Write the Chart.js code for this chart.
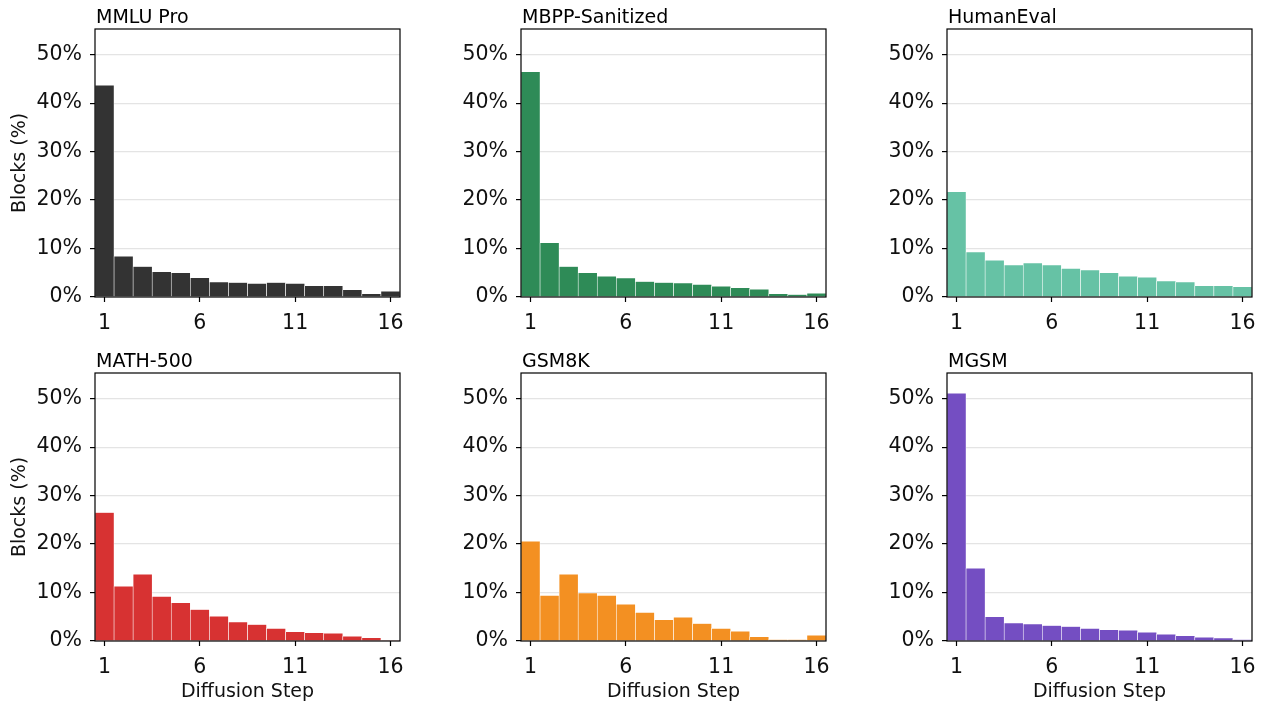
<!DOCTYPE html>
<html>
<head>
<meta charset="utf-8">
<script src="https://cdn.jsdelivr.net/npm/chart.js@4.4.1/dist/chart.umd.min.js"></script>
<style>
  html, body { margin: 0; padding: 0; background: #ffffff; }
  #wrap { position: relative; width: 1268px; height: 708px; overflow: hidden; }
  #wrap canvas { position: absolute; }
</style>
</head>
<body>
<div id="wrap"></div>
<script>
// Share of blocks (%) finalised at each diffusion step, per benchmark
const steps = ['1','2','3','4','5','6','7','8','9','10','11','12','13','14','15','16'];
const shownSteps = ['1','6','11','16'];
const yTicks = [0, 10, 20, 30, 40, 50];

const mmluPro   = [43.7, 8.4, 6.3, 5.2, 5.0, 4.0, 3.1, 3.0, 2.8, 3.0, 2.8, 2.3, 2.3, 1.5, 0.7, 1.2];
const mbppSan   = [46.5, 11.2, 6.3, 5.0, 4.3, 3.9, 3.2, 3.0, 2.9, 2.6, 2.2, 1.9, 1.6, 0.7, 0.5, 0.8];
const humanEval = [21.7, 9.3, 7.6, 6.6, 7.0, 6.6, 5.9, 5.6, 5.0, 4.3, 4.1, 3.3, 3.1, 2.3, 2.3, 2.1];
const math500   = [26.5, 11.3, 13.8, 9.2, 7.9, 6.5, 5.1, 3.9, 3.4, 2.6, 1.9, 1.7, 1.6, 1.0, 0.7, 0.1];
const gsm8k     = [20.6, 9.4, 13.8, 9.9, 9.4, 7.6, 5.9, 4.4, 4.9, 3.6, 2.6, 2.0, 0.9, 0.3, 0.3, 1.2];
const mgsm      = [51.1, 15.0, 5.0, 3.7, 3.5, 3.2, 3.0, 2.6, 2.3, 2.2, 1.8, 1.4, 1.1, 0.8, 0.6, 0.3];

const panelTitles = ['MMLU Pro', 'MBPP-Sanitized', 'HumanEval', 'MATH-500', 'GSM8K', 'MGSM'];
const panelSeries = [mmluPro, mbppSan, humanEval, math500, gsm8k, mgsm];
const panelColors = ['#333333', '#2e8b57', '#66c2a5', '#d73232', '#f39022', '#744ec2'];

const yMax = 55.3;
const FONT = "'DejaVu Sans', sans-serif";

// plot-area geometry
const colLeft = [95, 521, 947];
const rowTop = [29, 373];
const plotW = 305, plotH = 268;
const yAxisW = 95, topPad = 29, rightPad = 20;
const xAxisH = [36, 67];

// draws the panel title and the black frame round the plot area
const framePlugin = {
  id: 'frame',
  afterDatasetsDraw(chart) {
    const a = chart.chartArea, c = chart.ctx;
    c.save();
    c.strokeStyle = '#000000';
    c.lineWidth = 1.2;
    c.strokeRect(a.left, a.top, a.right - a.left, a.bottom - a.top);
    c.restore();
  },
  afterDraw(chart, args, opts) {
    const a = chart.chartArea, c = chart.ctx;
    c.save();
    c.fillStyle = '#000000';
    c.font = '19px ' + FONT;
    c.textAlign = 'left';
    c.textBaseline = 'alphabetic';
    c.fillText(opts.text, a.left + 1, a.top - 6);
    c.restore();
  }
};

const wrap = document.getElementById('wrap');

panelSeries.forEach((values, i) => {
  const col = i % 3, row = Math.floor(i / 3);
  const cv = document.createElement('canvas');
  const w = yAxisW + plotW + rightPad;
  const h = topPad + plotH + xAxisH[row];
  cv.width = w; cv.height = h;
  cv.style.width = w + 'px'; cv.style.height = h + 'px';
  cv.style.left = (colLeft[col] - yAxisW) + 'px';
  cv.style.top = (rowTop[row] - topPad) + 'px';
  wrap.appendChild(cv);

  new Chart(cv, {
    type: 'bar',
    data: {
      labels: steps,
      datasets: [{
        data: values,
        backgroundColor: panelColors[i],
        borderColor: '#ffffff',
        borderWidth: 0.6,
        borderSkipped: 'bottom',
        barPercentage: 1,
        categoryPercentage: 1
      }]
    },
    options: {
      responsive: false,
      animation: false,
      devicePixelRatio: 1,
      layout: { padding: { top: topPad, right: rightPad, left: 0, bottom: 0 } },
      plugins: {
        legend: { display: false },
        tooltip: { enabled: false },
        frame: { text: panelTitles[i] }
      },
      scales: {
        x: {
          type: 'category',
          offset: true,
          afterFit(s) { s.height = xAxisH[row]; },
          grid: {
            offset: false,
            drawOnChartArea: false,
            drawTicks: true,
            tickLength: 5,
            tickWidth: 1.2,
            tickColor: (ctx) => shownSteps.includes(steps[ctx.index]) ? '#000000' : 'rgba(0,0,0,0)'
          },
          border: { display: false },
          ticks: {
            autoSkip: false,
            maxRotation: 0,
            padding: 9,
            color: '#111111',
            font: { family: FONT, size: 20.5 },
            callback: (v, idx) => shownSteps.includes(steps[idx]) ? steps[idx] : ''
          },
          title: {
            display: row === 1,
            text: 'Diffusion Step',
            color: '#111111',
            font: { family: FONT, size: 19 },
            padding: { top: 0, bottom: 5 }
          }
        },
        y: {
          min: 0,
          max: yMax,
          afterFit(s) { s.width = yAxisW; },
          afterBuildTicks(s) { s.ticks = yTicks.map(v => ({ value: v })); },
          grid: {
            color: (ctx) => ctx.tick && ctx.tick.value === 0 ? 'rgba(0,0,0,0)' : '#e4e4e4',
            lineWidth: 1.2,
            drawTicks: true,
            tickLength: 5,
            tickWidth: 1.2,
            tickColor: '#000000'
          },
          border: { display: false },
          ticks: {
            padding: 8,
            color: '#111111',
            font: { family: FONT, size: 20.5 },
            callback: (v) => v + '%'
          },
          title: {
            display: col === 0,
            text: 'Blocks (%)',
            color: '#111111',
            font: { family: FONT, size: 19 },
            padding: { top: 9, bottom: 0 }
          }
        }
      }
    },
    plugins: [framePlugin]
  });
});
</script>
</body>
</html>
